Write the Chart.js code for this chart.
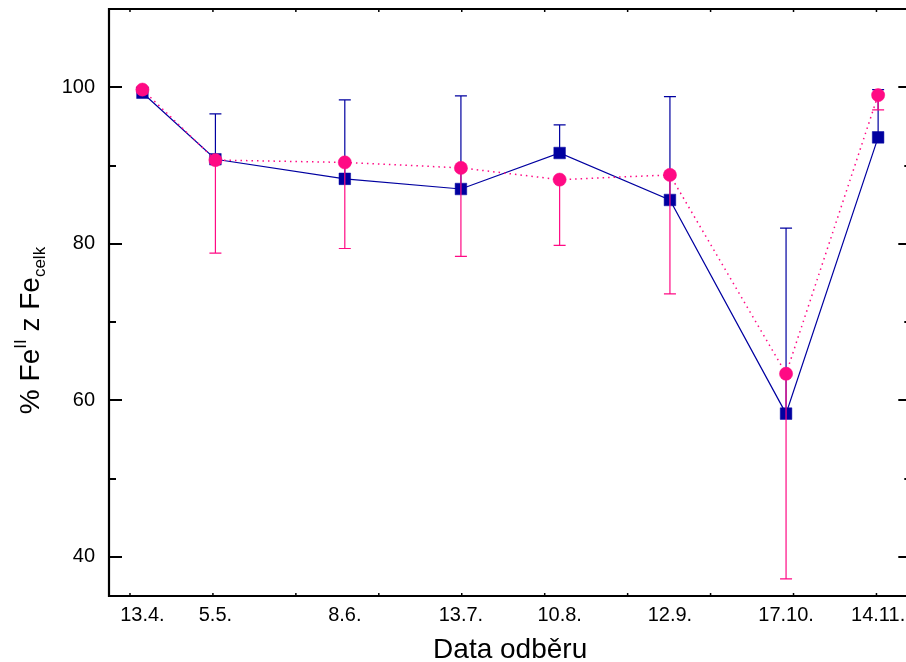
<!DOCTYPE html>
<html>
<head>
<meta charset="utf-8">
<script src="https://cdn.jsdelivr.net/npm/chart.js@4/dist/chart.umd.min.js"></script>
<style>
  html, body { margin: 0; padding: 0; background: #fff; }
  #wrap { width: 906px; height: 662px; overflow: hidden; position: relative; }
  canvas { display: block; }
</style>
</head>
<body>
<div id="wrap"><canvas id="c" width="920" height="662"></canvas></div>
<script>
// ---- data ----
const dateLabels = ['13.4.', '5.5.', '8.6.', '13.7.', '10.8.', '12.9.', '17.10.', '14.11.'];
// position of each sampling on the original (unlabelled) x axis, in that axis' tick units
const sampleX = [0.15, 1.03, 2.59, 3.99, 5.18, 6.51, 7.91, 9.02];
const feBlue = [99.3, 90.8, 88.3, 87.0, 91.6, 85.6, 58.3, 93.6];
const feBlueErrPlus = [0.7, 5.8, 10.1, 11.9, 3.6, 13.2, 23.7, 6.1];
const fePink = [99.7, 90.7, 90.4, 89.7, 88.2, 88.8, 63.4, 99.0];
const fePinkErrMinus = [0.4, 11.9, 11.0, 11.3, 8.4, 15.2, 26.2, 1.9];
const yTickValues = [40, 50, 60, 70, 80, 90, 100];
const xMinorTickValues = [0, 1, 2, 3, 4, 5, 6, 7, 8, 9];
const xRange = [-0.253, 9.42];
const yRange = [35, 110];

const BLUE = '#0000a0';
const PINK = '#ff0a84';
const FONT = '"Liberation Sans", Arial, Helvetica, sans-serif';

const errorBarPlugin = {
  id: 'errorBars',
  beforeDatasetDraw(chart, args) {
    const ds = chart.data.datasets[args.index];
    if (!ds.err) return;
    const ctx = chart.ctx;
    const ys = chart.scales.y;
    const cap = 6;
    ctx.save();
    ctx.strokeStyle = ds.borderColor;
    ctx.lineWidth = 1.2;
    args.meta.data.forEach((pt, i) => {
      const v = ds.data[i].y;
      const end = v + ds.errDir * ds.err[i];
      const y0 = ys.getPixelForValue(v);
      const y1 = ys.getPixelForValue(end);
      ctx.beginPath();
      ctx.moveTo(pt.x, y0);
      ctx.lineTo(pt.x, y1);
      ctx.moveTo(pt.x - cap, y1);
      ctx.lineTo(pt.x + cap, y1);
      ctx.stroke();
    });
    ctx.restore();
  }
};

const framePlugin = {
  id: 'frame',
  beforeDatasetsDraw(chart) {
    const ctx = chart.ctx;
    const a = chart.chartArea;
    const xs = chart.scales.x, ys = chart.scales.y;
    ctx.save();
    ctx.strokeStyle = '#000';
    ctx.lineWidth = 2;
    yTickValues.forEach(v => {
      const y = Math.round(ys.getPixelForValue(v));
      const len = (v % 20 === 0) ? 13 : 7;
      ctx.beginPath();
      ctx.moveTo(a.left, y); ctx.lineTo(a.left + len, y);
      ctx.moveTo(a.right, y); ctx.lineTo(a.right - len, y);
      ctx.stroke();
    });
    ctx.lineWidth = 1.5;
    xMinorTickValues.forEach(v => {
      const x = xs.getPixelForValue(v);
      ctx.beginPath();
      ctx.moveTo(x, a.bottom); ctx.lineTo(x, a.bottom - 3);
      ctx.moveTo(x, a.top); ctx.lineTo(x, a.top + 3);
      ctx.stroke();
    });
    ctx.lineWidth = 2.2;
    ctx.beginPath();
    ctx.moveTo(a.left, a.top); ctx.lineTo(a.right, a.top);
    ctx.lineTo(a.right, a.bottom); ctx.lineTo(a.left, a.bottom);
    ctx.closePath();
    ctx.stroke();
    ctx.restore();
  },
  afterDraw(chart) {
    const ctx = chart.ctx;
    const a = chart.chartArea;
    ctx.save();
    ctx.fillStyle = '#000';
    ctx.font = '28px ' + FONT;
    ctx.textAlign = 'center';
    ctx.textBaseline = 'alphabetic';
    ctx.fillText('Data odběru', (a.left + a.right) / 2, a.bottom + 62);
    const big = '28px ' + FONT, small = '17px ' + FONT;
    const parts = [
      { t: '% Fe', f: big, dy: 0 },
      { t: 'II', f: small, dy: -13 },
      { t: ' z Fe', f: big, dy: 0 },
      { t: 'celk', f: small, dy: 6 }
    ];
    let total = 0;
    parts.forEach(p => { ctx.font = p.f; p.w = ctx.measureText(p.t).width; total += p.w; });
    ctx.translate(39, (a.top + a.bottom) / 2 + 28);
    ctx.rotate(-Math.PI / 2);
    ctx.textAlign = 'left';
    let x = -total / 2;
    parts.forEach(p => { ctx.font = p.f; ctx.fillText(p.t, x, p.dy); x += p.w; });
    ctx.restore();
  }
};

new Chart(document.getElementById('c'), {
  type: 'scatter',
  data: {
    datasets: [
      {
        label: 'Fe(II) A',
        data: sampleX.map((x, i) => ({ x, y: feBlue[i] })),
        err: feBlueErrPlus, errDir: 1,
        showLine: true,
        borderColor: BLUE, backgroundColor: BLUE,
        borderWidth: 1.2,
        pointStyle: 'rect', pointRadius: 8.2, pointBorderWidth: 0.5,
        pointBorderColor: BLUE, pointBackgroundColor: BLUE,
        order: 1
      },
      {
        label: 'Fe(II) B',
        data: sampleX.map((x, i) => ({ x, y: fePink[i] })),
        err: fePinkErrMinus, errDir: -1,
        showLine: true,
        borderColor: PINK, backgroundColor: PINK,
        borderWidth: 1.5, borderDash: [1.5, 4],
        pointStyle: 'circle', pointRadius: 6.6, pointBorderWidth: 0.5,
        pointBorderColor: PINK, pointBackgroundColor: PINK,
        order: 0
      }
    ]
  },
  options: {
    responsive: false,
    animation: false,
    devicePixelRatio: 1,
    layout: { padding: { left: 0, right: 8, top: 9, bottom: 0 } },
    plugins: { legend: { display: false }, tooltip: { enabled: false } },
    scales: {
      x: {
        type: 'linear', min: xRange[0], max: xRange[1],
        grid: { display: false, drawTicks: false },
        border: { display: false },
        afterBuildTicks: s => { s.ticks = sampleX.map(v => ({ value: v })); },
        afterFit: s => { s.height = 66; s.paddingLeft = 0; s.paddingRight = 0; s.paddingTop = 0; s.paddingBottom = 0; },
        ticks: {
          autoSkip: false, maxRotation: 0, minRotation: 0, padding: 7,
          color: '#000', font: { family: FONT, size: 20 },
          callback: (v, i) => dateLabels[i]
        }
      },
      y: {
        type: 'linear', min: yRange[0], max: yRange[1],
        grid: { display: false, drawTicks: false },
        border: { display: false },
        afterBuildTicks: s => { s.ticks = yTickValues.map(v => ({ value: v })); },
        afterFit: s => { s.width = 109; s.paddingLeft = 0; s.paddingRight = 0; s.paddingTop = 0; s.paddingBottom = 0; },
        ticks: {
          padding: 14, color: '#000', font: { family: FONT, size: 20 },
          callback: v => (v % 20 === 0 ? String(v) : '')
        }
      }
    }
  },
  plugins: [errorBarPlugin, framePlugin]
});
</script>
</body>
</html>
